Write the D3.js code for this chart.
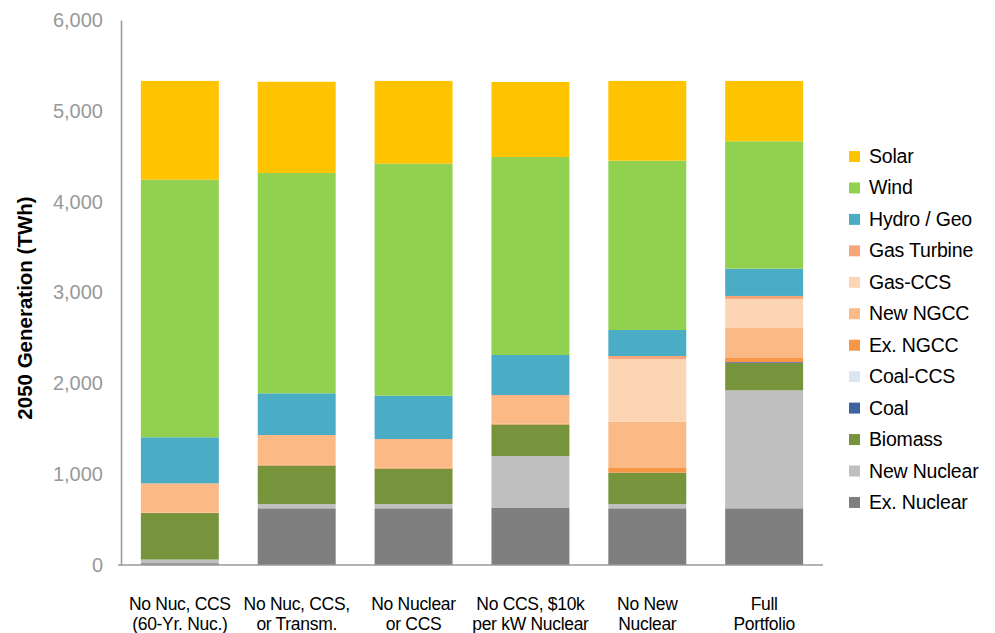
<!DOCTYPE html>
<html>
<head>
<meta charset="utf-8">
<script src="https://cdn.jsdelivr.net/npm/d3@7"></script>
<style>
  body { margin: 0; background: #fff; }
  svg { display: block; }
</style>
</head>
<body>
<div id="vis"></div>
<script>
// Escenarios (eje X)
const ESCENARIOS = [
    ["No Nuc, CCS", "(60-Yr. Nuc.)"],
    ["No Nuc, CCS,", "or Transm."],
    ["No Nuclear", "or CCS"],
    ["No CCS, $10k", "per kW Nuclear"],
    ["No New", "Nuclear"],
    ["Full", "Portfolio"]
];

// Tecnologias, de abajo hacia arriba en la pila
const TECNOLOGIAS = ["Ex. Nuclear", "New Nuclear", "Biomass", "Coal", "Coal-CCS", "Ex. NGCC",
    "New NGCC", "Gas-CCS", "Gas Turbine", "Hydro / Geo", "Wind", "Solar"];

// Generacion 2050 (TWh) por escenario
const EX_NUCLEAR  = [20, 624, 624, 628, 624, 624];
const NEW_NUCLEAR = [40, 48, 48, 572, 48, 1299];
const BIOMASS     = [512, 422, 389, 346, 344, 300];
const COAL        = [0, 0, 0, 0, 0, 10];
const COAL_CCS    = [0, 0, 0, 0, 0, 0];
const EX_NGCC     = [5, 10, 10, 10, 52, 46];
const NEW_NGCC    = [322, 327, 316, 306, 510, 330];
const GAS_CCS     = [0, 0, 0, 0, 690, 320];
const GAS_TURBINE = [0, 0, 0, 10, 33, 33];
const HYDRO_GEO   = [507, 459, 477, 440, 286, 300];
const WIND        = [2836, 2426, 2554, 2180, 1864, 1403];
const SOLAR       = [1087, 1004, 911, 826, 878, 664];

const Y_TICKS = [0, 1000, 2000, 3000, 4000, 5000, 6000];

const COLORES = {
    "Ex. Nuclear": "#7f7f7f",
    "New Nuclear": "#bfbfbf",
    "Biomass": "#77933c",
    "Coal": "#3f63a0",
    "Coal-CCS": "#dce6f2",
    "Ex. NGCC": "#f79646",
    "New NGCC": "#fab985",
    "Gas-CCS": "#fcd5b5",
    "Gas Turbine": "#f7a67c",
    "Hydro / Geo": "#4bacc6",
    "Wind": "#92d050",
    "Solar": "#ffc400"
};

const WIDTH = 995;
const HEIGHT = 633;
const MARGIN = { top: 20, bottom: 68, left: 121, right: 172 };

const SVG = d3.select("#vis").append("svg")
    .attr("width", WIDTH)
    .attr("height", HEIGHT);

// Tabla para d3.stack
const series = [EX_NUCLEAR, NEW_NUCLEAR, BIOMASS, COAL, COAL_CCS, EX_NGCC,
    NEW_NGCC, GAS_CCS, GAS_TURBINE, HYDRO_GEO, WIND, SOLAR];
const datos = ESCENARIOS.map((e, i) => {
    const fila = { escenario: e.join(" ") };
    TECNOLOGIAS.forEach((t, j) => fila[t] = series[j][i]);
    return fila;
});

const pila = d3.stack().keys(TECNOLOGIAS)(datos);

const escalaX = d3.scaleBand()
    .domain(datos.map(d => d.escenario))
    .range([MARGIN.left, WIDTH - MARGIN.right])
    .paddingInner(0.333)
    .paddingOuter(0.17);

const escalaY = d3.scaleLinear()
    .domain([0, 6000])
    .range([HEIGHT - MARGIN.bottom, MARGIN.top]);

// Barras apiladas
SVG.append("g")
    .selectAll("g")
    .data(pila)
    .join("g")
    .attr("fill", d => COLORES[d.key])
    .selectAll("rect")
    .data(d => d)
    .join("rect")
    .attr("x", d => escalaX(d.data.escenario))
    .attr("width", escalaX.bandwidth())
    .attr("y", d => escalaY(d[1]))
    .attr("height", d => escalaY(d[0]) - escalaY(d[1]));

// Eje Y
const ejeY = SVG.append("g")
    .attr("transform", `translate(${MARGIN.left},0)`)
    .call(d3.axisLeft(escalaY).tickValues(Y_TICKS).tickFormat(d3.format(",")).tickSize(0).tickPadding(18));
ejeY.select(".domain").attr("stroke", "#999").attr("stroke-width", 1.5);
ejeY.selectAll("text")
    .attr("fill", "#999")
    .style("font-family", "'Liberation Sans', Arial, sans-serif")
    .style("font-size", "20px");

// Linea base del eje X
SVG.append("line")
    .attr("x1", MARGIN.left - 3)
    .attr("x2", WIDTH - MARGIN.right)
    .attr("y1", escalaY(0))
    .attr("y2", escalaY(0))
    .attr("stroke", "#999")
    .attr("stroke-width", 1.5);

// Etiquetas del eje X (dos lineas)
const etiquetas = SVG.append("g")
    .selectAll("text")
    .data(ESCENARIOS)
    .join("text")
    .attr("text-anchor", "middle")
    .attr("x", (d, i) => escalaX(datos[i].escenario) + escalaX.bandwidth() / 2)
    .attr("y", 610)
    .style("font-family", "'Liberation Sans', Arial, sans-serif")
    .style("font-size", "17.5px")
    .style("letter-spacing", "-0.3px")
    .attr("fill", "#000");
etiquetas.append("tspan").attr("x", function () { return this.parentNode.getAttribute("x"); }).text(d => d[0]);
etiquetas.append("tspan").attr("x", function () { return this.parentNode.getAttribute("x"); }).attr("dy", 20).text(d => d[1]);

// Titulo eje Y
SVG.append("text")
    .attr("transform", `translate(32, 308) rotate(-90)`)
    .attr("text-anchor", "middle")
    .style("font-family", "'Liberation Sans', Arial, sans-serif")
    .style("font-size", "20.5px")
    .style("font-weight", "bold")
    .attr("fill", "#000")
    .text("2050 Generation (TWh)");

// Leyenda (de arriba hacia abajo: orden inverso de la pila)
const leyenda = SVG.append("g")
    .selectAll("g")
    .data(TECNOLOGIAS.slice().reverse())
    .join("g")
    .attr("transform", (d, i) => `translate(849, ${156 + i * 31.45})`);
leyenda.append("rect")
    .attr("x", 0)
    .attr("y", -5)
    .attr("width", 11)
    .attr("height", 11)
    .attr("fill", d => COLORES[d]);
leyenda.append("text")
    .attr("x", 20)
    .attr("y", 7)
    .style("font-family", "'Liberation Sans', Arial, sans-serif")
    .style("font-size", "19.5px")
    .style("letter-spacing", "-0.2px")
    .attr("fill", "#000")
    .text(d => d);
</script>
</body>
</html>
